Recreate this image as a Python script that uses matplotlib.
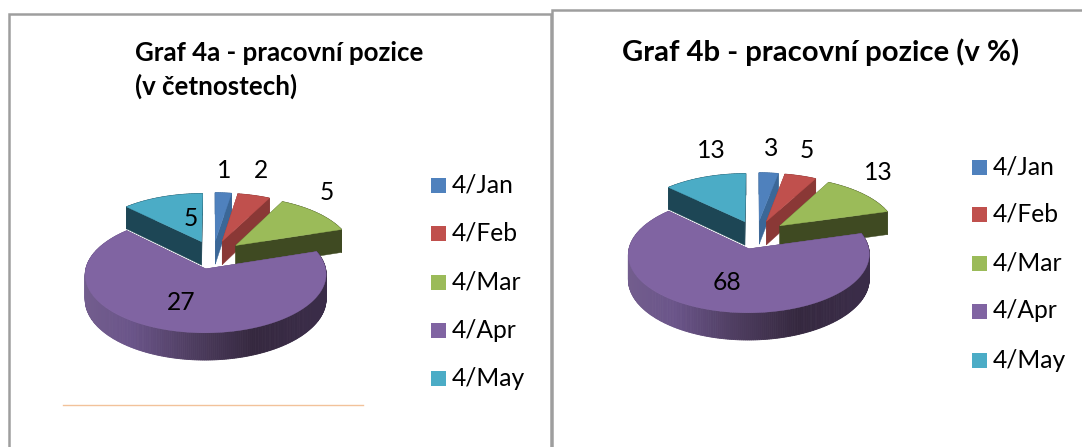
import numpy as np
import matplotlib
matplotlib.use("Agg")
import matplotlib.pyplot as plt
from matplotlib.colors import to_rgb
from matplotlib.patches import Polygon, Rectangle

plt.rcParams['font.family'] = ['Lato', 'DejaVu Sans']

categories = ['4/Jan', '4/Feb', '4/Mar', '4/Apr', '4/May']
values_a = [1, 2, 5, 27, 5]
values_b = [3, 5, 13, 68, 13]
title_a = 'Graf 4a - pracovní pozice\n(v četnostech)'
title_b = 'Graf 4b - pracovní pozice (v %)'

top_colors = ['#4F81BD', '#C0504D', '#9BBB59', '#8064A2', '#4BACC6']
side_colors = ['#3B6797', '#8A3836', '#3F4A22', '#5A4672', '#1D4655']
wall_stops = ['#75608F', '#6A5489', '#4E3D60', '#35283F', '#3A2C48']

E = 0.26      # explosion
K = 0.095     # perspective
A = 55.0      # vertical radius
B = 117.0     # horizontal radius
D = 24.0      # depth

fig = plt.figure(figsize=(10.82, 4.47), dpi=100)
ax = fig.add_axes([0, 0, 1, 1])
ax.set_xlim(0, 1082)
ax.set_ylim(447, 0)
ax.axis('off')


def project(u, v, cx, cy, drop=0.0):
    s = 1.0 / (1.0 + K * v)
    return cx + B * u * s, cy - A * v * s + drop * s


def wall_color(t):
    stops = np.array([to_rgb(c) for c in wall_stops])
    pos = np.linspace(0, 1, len(stops))
    return tuple(np.interp(t, pos, stops[:, i]) for i in range(3))


def pie3d(values, cx, cy):
    total = sum(values)
    edges = np.concatenate([[0], np.cumsum(values)]) / total * 2 * np.pi
    order = [0, 1, 4, 2, 3]
    for i in order:
        a0, a1 = edges[i], edges[i + 1]
        mid = (a0 + a1) / 2
        ou, ov = E * np.sin(mid), E * np.cos(mid)
        th = np.linspace(a0, a1, max(int((a1 - a0) / 0.015), 4))
        u = ou + np.sin(th)
        v = ov + np.cos(th)
        # outer wall, split into thin strips so that the shading can vary
        for j in range(len(th) - 1):
            x0, y0 = project(u[j], v[j], cx, cy)
            x1, y1 = project(u[j + 1], v[j + 1], cx, cy)
            x2, y2 = project(u[j + 1], v[j + 1], cx, cy, D)
            x3, y3 = project(u[j], v[j], cx, cy, D)
            if i == 3:
                c = wall_color(np.clip((x0 - (cx - B - 25)) / (2 * B + 10), 0, 1))
            else:
                c = side_colors[i]
            ax.add_patch(Polygon([(x0, y0), (x1, y1), (x2, y2), (x3, y3)],
                                 closed=True, fc=c, ec=c, lw=0.6, zorder=2))
        # cut faces
        for uu, vv in ((u[0], v[0]), (u[-1], v[-1])):
            p0 = project(ou, ov, cx, cy)
            p1 = project(uu, vv, cx, cy)
            p2 = project(uu, vv, cx, cy, D)
            p3 = project(ou, ov, cx, cy, D)
            ax.add_patch(Polygon([p0, p1, p2, p3], closed=True,
                                 fc=side_colors[i], ec=side_colors[i], lw=0.3, zorder=2))
        # top
        px, py = project(np.r_[ou, u], np.r_[ov, v], cx, cy)
        ax.add_patch(Polygon(np.c_[px, py], closed=True,
                             fc=top_colors[i], ec=top_colors[i], lw=0.3, zorder=2))


def legend(x, ys):
    for name, c, y in zip(categories, top_colors, ys):
        ax.add_patch(Rectangle((x, y - 7.5), 15, 15, fc=c, ec='none', zorder=3))
        ax.text(x + 21, y, name, fontsize=17.7, va='center', ha='left', color='black', zorder=3)


frame = '#9E9E9E'
ax.plot([8.5, 8.5, 550.5, 550.5], [447, 13.5, 13.5, 447], color=frame, lw=1.8,
        solid_joinstyle='miter', zorder=1)
ax.add_patch(Rectangle((552, 10), 531, 440, fc='white', ec=frame, lw=1.8, zorder=1))
ax.plot([63, 363], [405, 405], color='#F2C29A', lw=1, zorder=1)

pie3d(values_a, 213.0, 254.6)
pie3d(values_b, 756.5, 234.6)

ax.text(135, 70, title_a, fontsize=18.6, fontweight='bold', va='center', ha='left',
        linespacing=1.43, zorder=3)
ax.text(622, 52, title_b, fontsize=21.1, fontweight='bold', va='center', ha='left', zorder=3)

legend(431, [185, 233, 282, 330, 378])
legend(972, [167, 214, 263, 311, 360])

for pos, val in zip([(224, 170), (261, 170), (327, 192), (181, 303), (191, 218)], values_a):
    ax.text(*pos, str(val), fontsize=17.7, ha='center', va='center', zorder=4)
for pos, val in zip([(771, 149), (807, 150), (878, 173), (727, 283), (711, 151)], values_b):
    ax.text(*pos, str(val), fontsize=17.7, ha='center', va='center', zorder=4)

fig.savefig('out.png', dpi=100, facecolor='white')
